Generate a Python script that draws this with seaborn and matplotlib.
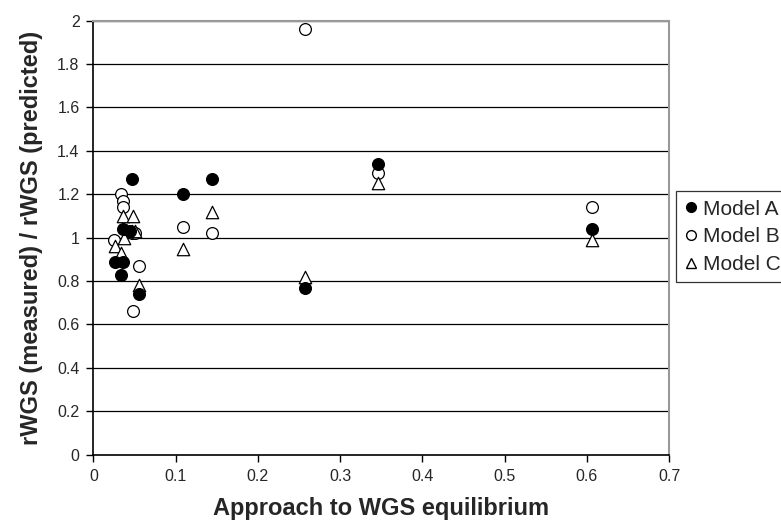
import matplotlib
matplotlib.use("Agg")
import matplotlib.pyplot as plt
import pandas as pd
import seaborn as sns
from matplotlib.lines import Line2D

# approach to WGS equilibrium vs measured/predicted rWGS ratio
model_a_x = [0.047, 0.109, 0.144, 0.036, 0.044, 0.026, 0.036, 0.033, 0.055, 0.257, 0.346, 0.606]
model_a_y = [1.27, 1.20, 1.27, 1.04, 1.03, 0.89, 0.89, 0.83, 0.74, 0.77, 1.34, 1.04]

model_b_x = [0.034, 0.036, 0.036, 0.047, 0.051, 0.025, 0.055, 0.048, 0.109, 0.144, 0.257, 0.346, 0.606]
model_b_y = [1.20, 1.17, 1.14, 1.02, 1.02, 0.99, 0.87, 0.66, 1.05, 1.02, 1.96, 1.30, 1.14]

model_c_x = [0.036, 0.048, 0.047, 0.050, 0.037, 0.026, 0.034, 0.055, 0.109, 0.144, 0.257, 0.346, 0.606]
model_c_y = [1.10, 1.10, 1.03, 1.03, 1.00, 0.96, 0.93, 0.78, 0.95, 1.12, 0.82, 1.25, 0.99]

x_ticks = [0, 0.1, 0.2, 0.3, 0.4, 0.5, 0.6, 0.7]
y_ticks = [0, 0.2, 0.4, 0.6, 0.8, 1, 1.2, 1.4, 1.6, 1.8, 2]

sns.set_theme(style="white")
plt.rcParams["font.family"] = ["Liberation Sans", "DejaVu Sans"]

df_a = pd.DataFrame({"x": model_a_x, "y": model_a_y})
df_b = pd.DataFrame({"x": model_b_x, "y": model_b_y})
df_c = pd.DataFrame({"x": model_c_x, "y": model_c_y})

fig = plt.figure(figsize=(7.81, 5.24), dpi=100)
ax = fig.add_axes([0.1197, 0.1323, 0.7369, 0.8282])

for yv in y_ticks[1:]:
    ax.axhline(yv, color="black", lw=0.9, zorder=0)

sns.scatterplot(data=df_b, x="x", y="y", marker="o", s=72, color="white",
                edgecolor="black", linewidth=0.9, ax=ax, zorder=3)
sns.scatterplot(data=df_c, x="x", y="y", marker="^", s=80, color="white",
                edgecolor="black", linewidth=0.9, ax=ax, zorder=3)
sns.scatterplot(data=df_a, x="x", y="y", marker="o", s=72, color="black",
                edgecolor="black", linewidth=0.9, ax=ax, zorder=4)

ax.set_xlim(0, 0.7)
ax.set_ylim(0, 2)
ax.set_xticks(x_ticks)
ax.set_xticklabels(["0", "0.1", "0.2", "0.3", "0.4", "0.5", "0.6", "0.7"])
ax.set_yticks(y_ticks)
ax.set_yticklabels(["0", "0.2", "0.4", "0.6", "0.8", "1", "1.2", "1.4", "1.6", "1.8", "2"])
ax.tick_params(axis="both", direction="out", length=5, width=1, color="black",
               labelsize=11.5, pad=5, bottom=True, left=True)
ax.grid(False)

for side in ["left", "bottom"]:
    ax.spines[side].set_color("black")
    ax.spines[side].set_linewidth(1.2)
for side in ["top", "right"]:
    ax.spines[side].set_color("#999999")
    ax.spines[side].set_linewidth(1.5)

ax.set_xlabel("Approach to WGS equilibrium", fontsize=17, fontweight="bold", labelpad=10)
ax.set_ylabel("rWGS (measured) / rWGS (predicted)", fontsize=17, fontweight="bold", labelpad=10)

handles = [
    Line2D([], [], marker="o", ls="none", markersize=7, markerfacecolor="black", markeredgecolor="black"),
    Line2D([], [], marker="o", ls="none", markersize=7, markerfacecolor="white", markeredgecolor="black"),
    Line2D([], [], marker="^", ls="none", markersize=7, markerfacecolor="white", markeredgecolor="black"),
]
leg = fig.legend(handles, ["Model A", "Model B", "Model C"], loc="upper left",
                 bbox_to_anchor=(0.866, 0.635), fontsize=15, frameon=True, fancybox=False,
                 handlelength=0.6, handletextpad=0.3, borderpad=0.4, labelspacing=0.42,
                 borderaxespad=0)
leg.get_frame().set_edgecolor("black")
leg.get_frame().set_linewidth(0.9)

fig.savefig("out.png", dpi=100)
